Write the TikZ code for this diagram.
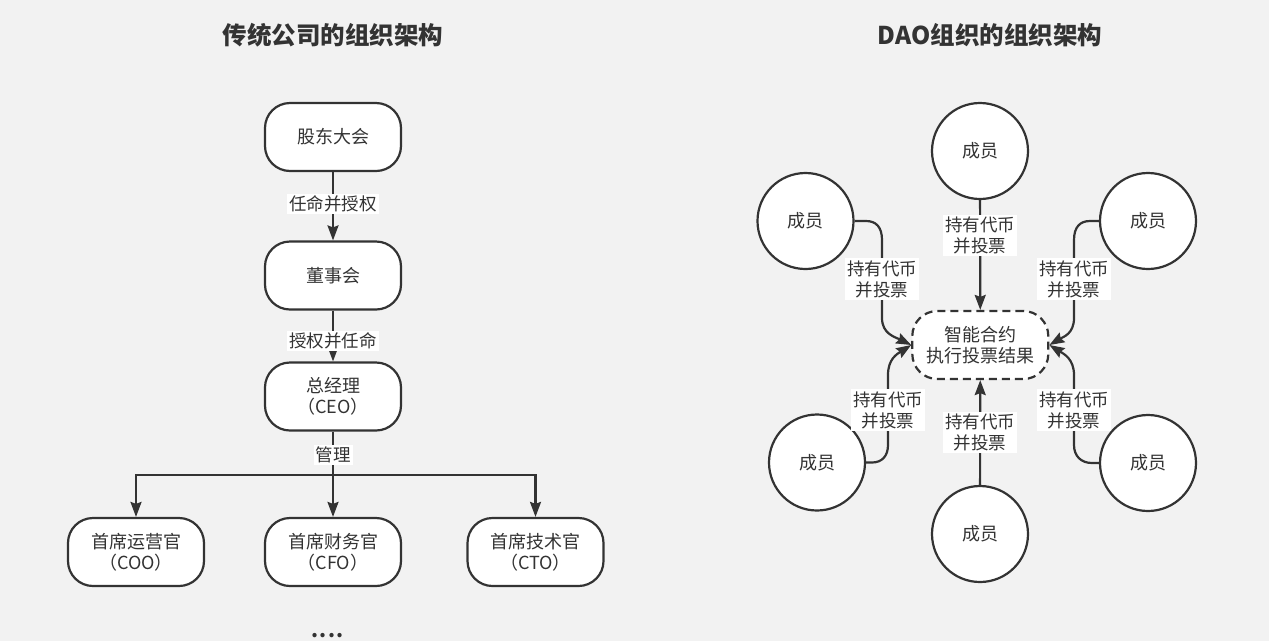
\documentclass[tikz,border=0pt]{standalone}
\usepackage{fontspec}
\setmainfont{Noto Sans CJK SC}
\usetikzlibrary{arrows.meta}
\definecolor{bgcol}{HTML}{F2F2F2}
\definecolor{ink}{HTML}{333333}
\tikzset{
  box/.style={draw=ink, line width=2.2pt, fill=white, rounded corners=25pt,
    minimum width=136pt, minimum height=68pt, align=center, text=ink,
    font=\fontsize{18pt}{21pt}\selectfont},
  dbox/.style={box, dash pattern=on 8pt off 5pt},
  member/.style={circle, draw=ink, line width=2.2pt, fill=white, minimum size=96pt,
    inner sep=0pt, text=ink, font=\fontsize{18pt}{21pt}\selectfont},
  conn/.style={draw=ink, line width=2.2pt},
  arr/.style={conn, -{Stealth[length=15pt,width=11pt,inset=2pt]}},
  lbl/.style={fill=white, inner sep=2pt, text=ink, align=center,
    font=\fontsize{17.5pt}{21pt}\selectfont},
  ttl/.style={text=ink, font=\bfseries\fontsize{24.5pt}{28pt}\selectfont},
}
\begin{document}
\begin{tikzpicture}[x=1pt,y=-1pt]
\fill[bgcol] (0,0) rectangle (1269,641);
\useasboundingbox (0,0) rectangle (1269,641);

% titles
\node[ttl] (t1) at (333,35) {传统公司的组织架构};
\node[ttl] (t2) at (990,35) {DAO组织的组织架构};

% left diagram
\node[box] (gd) at (333,137) {股东大会};
\node[box] (dsh) at (333,275.5) {董事会};
\node[box] (zjl) at (333,396.5) {总经理\\（CEO）};
\node[box] (coo) at (136,552) {首席运营官\\（COO）};
\node[box] (cfo) at (333,552) {首席财务官\\（CFO）};
\node[box] (cto) at (535.5,552) {首席技术官\\（CTO）};
\coordinate (hub) at (333,475);

\draw[arr] (gd) -- node[lbl, pos=0.47] {任命并授权} (dsh);
\draw[arr] (dsh) -- node[lbl, pos=0.6] {授权并任命} (zjl);
\draw[conn] (zjl) -- (hub);
\draw[arr] (hub) -| (coo);
\draw[arr] (hub) -- (cfo);
\draw[arr] (hub) -| (cto);
\node[lbl] (gl) at (333,455) {管理};

\node[text=ink, inner sep=0pt, font=\bfseries\fontsize{20pt}{22pt}\selectfont] (dots) at (327.5,636) {.\hspace{1pt}.\hspace{1pt}.\hspace{1pt}.};

% right diagram
\node[dbox] (sc) at (980.3,345) {智能合约\\执行投票结果};
\node[member] (mt) at (980,151) {成员};
\node[member] (mul) at (805.5,221) {成员};
\node[member] (mur) at (1148,221) {成员};
\node[member] (mll) at (817,462.5) {成员};
\node[member] (mlr) at (1148,463) {成员};
\node[member] (mb) at (980,534) {成员};

\draw[arr] (mt) -- node[lbl, pos=0.32] {持有代币\\并投票} (sc);
\draw[arr] (mb) -- node[lbl, pos=0.5] {持有代币\\并投票} (sc);

\draw[arr] (mul.east) -- (866,221) .. controls (876,221) and (882,227) .. (882,240)
  -- node[lbl] {持有代币\\并投票} (882,318) .. controls (882,334) and (895,337) .. (sc.west);
\draw[arr] (mll.east) -- (872,462.5) .. controls (882,462.5) and (888,456) .. (888,445)
  -- node[lbl] {持有代币\\并投票} (888,375) .. controls (888,359) and (897,354) .. (sc.west);
\draw[arr] (mur.west) -- (1090,221) .. controls (1080,221) and (1074,227) .. (1074,240)
  -- node[lbl] {持有代币\\并投票} (1074,318) .. controls (1074,334) and (1063,337) .. (sc.east);
\draw[arr] (mlr.west) -- (1092,463) .. controls (1081,463) and (1074,456) .. (1074,445)
  -- node[lbl] {持有代币\\并投票} (1074,375) .. controls (1074,359) and (1064,354) .. (sc.east);
\end{tikzpicture}
\end{document}
